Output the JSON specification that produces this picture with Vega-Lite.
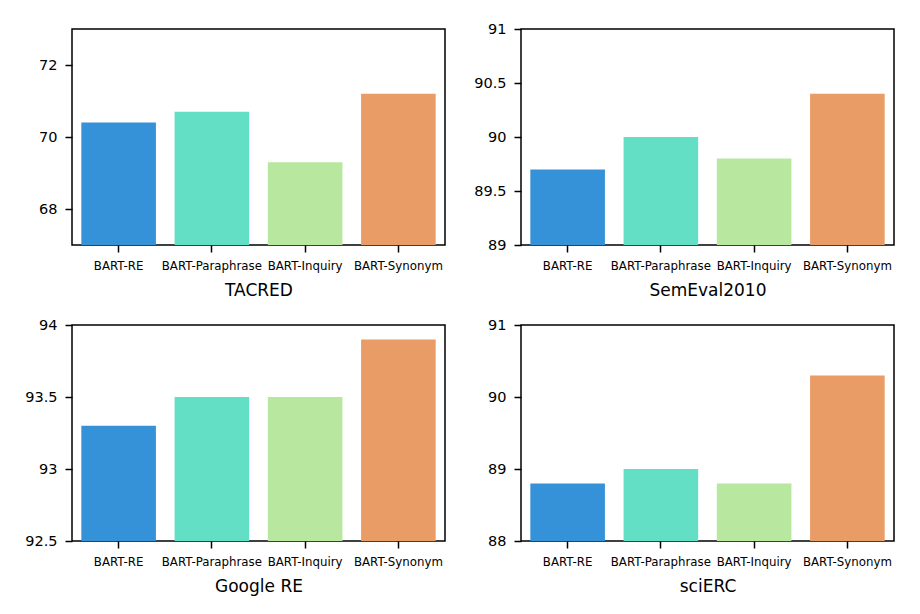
{
  "$schema": "https://vega.github.io/schema/vega-lite/v6.json",
  "padding": {"left": 21, "top": 20, "right": 0, "bottom": 0},
  "background": "white",
  "data": {
    "values": [
      {"dataset": "TACRED", "model": "BART-RE", "score": 70.4},
      {"dataset": "TACRED", "model": "BART-Paraphrase", "score": 70.7},
      {"dataset": "TACRED", "model": "BART-Inquiry", "score": 69.3},
      {"dataset": "TACRED", "model": "BART-Synonym", "score": 71.2},
      {"dataset": "SemEval2010", "model": "BART-RE", "score": 89.7},
      {"dataset": "SemEval2010", "model": "BART-Paraphrase", "score": 90.0},
      {"dataset": "SemEval2010", "model": "BART-Inquiry", "score": 89.8},
      {"dataset": "SemEval2010", "model": "BART-Synonym", "score": 90.4},
      {"dataset": "Google RE", "model": "BART-RE", "score": 93.3},
      {"dataset": "Google RE", "model": "BART-Paraphrase", "score": 93.5},
      {"dataset": "Google RE", "model": "BART-Inquiry", "score": 93.5},
      {"dataset": "Google RE", "model": "BART-Synonym", "score": 93.9},
      {"dataset": "sciERC", "model": "BART-RE", "score": 88.8},
      {"dataset": "sciERC", "model": "BART-Paraphrase", "score": 89.0},
      {"dataset": "sciERC", "model": "BART-Inquiry", "score": 88.8},
      {"dataset": "sciERC", "model": "BART-Synonym", "score": 90.3}
    ]
  },
  "config": {
    "font": "DejaVu Sans",
    "view": {"stroke": "black", "strokeWidth": 1.5},
    "axis": {
      "labelFont": "DejaVu Sans",
      "titleFont": "DejaVu Sans",
      "labelColor": "black",
      "titleColor": "black",
      "tickColor": "black",
      "tickSize": 7,
      "tickWidth": 1.5,
      "labelPadding": 8,
      "domain": false,
      "grid": false,
      "titleFontWeight": "normal"
    },
    "axisX": {"labelFontSize": 11.8, "titleFontSize": 17, "titlePadding": 11, "labelAngle": 0},
    "axisY": {"labelFontSize": 14.5, "minExtent": 50, "maxExtent": 50, "format": "~g"}
  },
  "spacing": 16,
  "vconcat": [
    {
      "spacing": 24,
      "hconcat": [
        {
          "width": 373,
          "height": 216,
          "transform": [{"filter": "datum.dataset === 'TACRED'"}],
          "mark": {"type": "bar", "clip": true},
          "encoding": {
            "x": {
              "field": "model",
              "type": "nominal",
              "sort": ["BART-RE", "BART-Paraphrase", "BART-Inquiry", "BART-Synonym"],
              "scale": {"paddingInner": 0.2, "paddingOuter": 0.1},
              "title": "TACRED"
            },
            "y": {
              "field": "score",
              "type": "quantitative",
              "scale": {"domain": [67, 73], "zero": false, "nice": false},
              "axis": {"values": [68, 70, 72]},
              "title": null
            },
            "color": {
              "field": "model",
              "type": "nominal",
              "scale": {
                "domain": ["BART-RE", "BART-Paraphrase", "BART-Inquiry", "BART-Synonym"],
                "range": ["#3692d8", "#63dfc6", "#b8e8a0", "#ea9c67"]
              },
              "legend": null
            }
          }
        },
        {
          "width": 373,
          "height": 216,
          "transform": [{"filter": "datum.dataset === 'SemEval2010'"}],
          "mark": {"type": "bar", "clip": true},
          "encoding": {
            "x": {
              "field": "model",
              "type": "nominal",
              "sort": ["BART-RE", "BART-Paraphrase", "BART-Inquiry", "BART-Synonym"],
              "scale": {"paddingInner": 0.2, "paddingOuter": 0.1},
              "title": "SemEval2010"
            },
            "y": {
              "field": "score",
              "type": "quantitative",
              "scale": {"domain": [89, 91], "zero": false, "nice": false},
              "axis": {"values": [89, 89.5, 90, 90.5, 91]},
              "title": null
            },
            "color": {
              "field": "model",
              "type": "nominal",
              "scale": {
                "domain": ["BART-RE", "BART-Paraphrase", "BART-Inquiry", "BART-Synonym"],
                "range": ["#3692d8", "#63dfc6", "#b8e8a0", "#ea9c67"]
              },
              "legend": null
            }
          }
        }
      ]
    },
    {
      "spacing": 24,
      "hconcat": [
        {
          "width": 373,
          "height": 216,
          "transform": [{"filter": "datum.dataset === 'Google RE'"}],
          "mark": {"type": "bar", "clip": true},
          "encoding": {
            "x": {
              "field": "model",
              "type": "nominal",
              "sort": ["BART-RE", "BART-Paraphrase", "BART-Inquiry", "BART-Synonym"],
              "scale": {"paddingInner": 0.2, "paddingOuter": 0.1},
              "title": "Google RE"
            },
            "y": {
              "field": "score",
              "type": "quantitative",
              "scale": {"domain": [92.5, 94], "zero": false, "nice": false},
              "axis": {"values": [92.5, 93, 93.5, 94]},
              "title": null
            },
            "color": {
              "field": "model",
              "type": "nominal",
              "scale": {
                "domain": ["BART-RE", "BART-Paraphrase", "BART-Inquiry", "BART-Synonym"],
                "range": ["#3692d8", "#63dfc6", "#b8e8a0", "#ea9c67"]
              },
              "legend": null
            }
          }
        },
        {
          "width": 373,
          "height": 216,
          "transform": [{"filter": "datum.dataset === 'sciERC'"}],
          "mark": {"type": "bar", "clip": true},
          "encoding": {
            "x": {
              "field": "model",
              "type": "nominal",
              "sort": ["BART-RE", "BART-Paraphrase", "BART-Inquiry", "BART-Synonym"],
              "scale": {"paddingInner": 0.2, "paddingOuter": 0.1},
              "title": "sciERC"
            },
            "y": {
              "field": "score",
              "type": "quantitative",
              "scale": {"domain": [88, 91], "zero": false, "nice": false},
              "axis": {"values": [88, 89, 90, 91]},
              "title": null
            },
            "color": {
              "field": "model",
              "type": "nominal",
              "scale": {
                "domain": ["BART-RE", "BART-Paraphrase", "BART-Inquiry", "BART-Synonym"],
                "range": ["#3692d8", "#63dfc6", "#b8e8a0", "#ea9c67"]
              },
              "legend": null
            }
          }
        }
      ]
    }
  ]
}
